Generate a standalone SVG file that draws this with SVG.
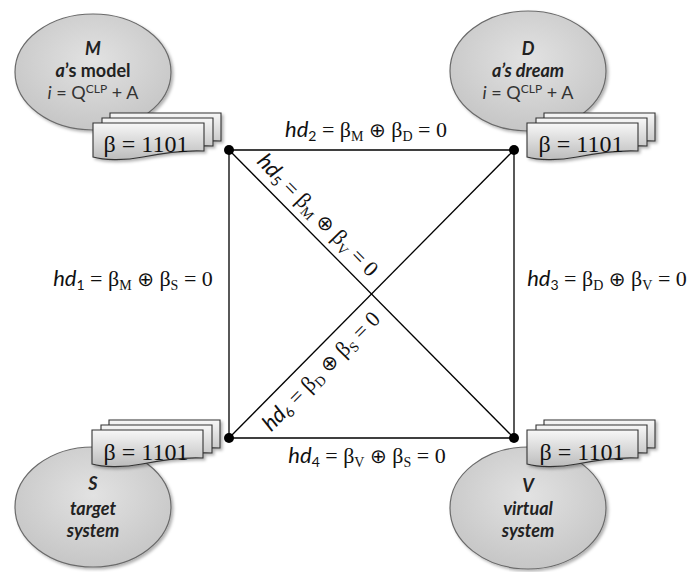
<svg xmlns="http://www.w3.org/2000/svg" xmlns:xlink="http://www.w3.org/1999/xlink" width="691" height="572" viewBox="0 0 691 572">
<defs>
<radialGradient id="ellG" cx="50%" cy="40%" r="60%">
<stop offset="0" stop-color="#e2e2e2"/>
<stop offset="1" stop-color="#c6c6c6"/>
</radialGradient>
<linearGradient id="cardG" x1="0" y1="0" x2="0" y2="1">
<stop offset="0" stop-color="#f7f7f7"/>
<stop offset="1" stop-color="#bcbcbc"/>
</linearGradient>
<filter id="sh" x="-10%" y="-10%" width="130%" height="130%">
<feDropShadow dx="2" dy="2" stdDeviation="1.5" flood-color="#000" flood-opacity="0.3"/>
</filter>
<path id="doc" d="M0,0 H111 V28 C90,27 70,30 50,34 C30,38 10,37 0,34 Z"/>
<g id="stack">
<use xlink:href="#doc" transform="translate(17,-10)" class="card"/>
<use xlink:href="#doc" transform="translate(9,-5)" class="card"/>
<use xlink:href="#doc" class="card"/>
</g>
</defs>
<style>
.ell{fill:url(#ellG);stroke:#6a6a6a;stroke-width:1.2;filter:url(#sh)}
.card{fill:url(#cardG);stroke:#333;stroke-width:1.1}
.stk{filter:url(#sh)}
.beta{font-family:"Liberation Serif",serif;font-size:24px;fill:#111;text-anchor:middle}
.nt{font-family:"Lato","Open Sans",sans-serif;font-size:18px;fill:#222;text-anchor:middle}
.bi{font-weight:bold;font-style:italic}
.b{font-weight:bold}
.eq{font-family:"Lato","Open Sans",sans-serif;font-size:18px;fill:#333;text-anchor:middle}
.lbl{font-family:"Liberation Serif",serif;font-size:22px;fill:#111}
.it{font-family:"Lato","Open Sans",sans-serif;font-style:italic}
.sub{font-size:14px}
.ssub{font-family:"Lato","Open Sans",sans-serif;font-size:14px}
.op{font-family:"DejaVu Sans",sans-serif;font-size:20px}
.ln{stroke:#000;stroke-width:1.3;fill:none}
</style>

<g id="connectors">
<path class="ln" d="M229,150 H514 V438 H229 Z"/>
<path class="ln" d="M229,150 L514,438"/>
<path class="ln" d="M229,438 L514,150"/>
<circle cx="229" cy="150" r="5" fill="#000"/>
<circle cx="514" cy="150" r="5" fill="#000"/>
<circle cx="229" cy="438" r="5" fill="#000"/>
<circle cx="514" cy="438" r="5" fill="#000"/>
<text class="lbl" x="366" y="137" text-anchor="middle"><tspan class="it">hd</tspan><tspan class="ssub" dy="4">2</tspan><tspan dy="-4"> = β</tspan><tspan class="sub" dy="4">M</tspan><tspan dy="-4"> </tspan><tspan class="op">⊕</tspan><tspan> β</tspan><tspan class="sub" dy="4">D</tspan><tspan dy="-4"> = 0</tspan></text>
<text class="lbl" x="133" y="286" text-anchor="middle"><tspan class="it">hd</tspan><tspan class="ssub" dy="4">1</tspan><tspan dy="-4"> = β</tspan><tspan class="sub" dy="4">M</tspan><tspan dy="-4"> </tspan><tspan class="op">⊕</tspan><tspan> β</tspan><tspan class="sub" dy="4">S</tspan><tspan dy="-4"> = 0</tspan></text>
<text class="lbl" x="607" y="286" text-anchor="middle"><tspan class="it">hd</tspan><tspan class="ssub" dy="4">3</tspan><tspan dy="-4"> = β</tspan><tspan class="sub" dy="4">D</tspan><tspan dy="-4"> </tspan><tspan class="op">⊕</tspan><tspan> β</tspan><tspan class="sub" dy="4">V</tspan><tspan dy="-4"> = 0</tspan></text>
<text class="lbl" x="367" y="463" text-anchor="middle"><tspan class="it">hd</tspan><tspan class="ssub" dy="4">4</tspan><tspan dy="-4"> = β</tspan><tspan class="sub" dy="4">V</tspan><tspan dy="-4"> </tspan><tspan class="op">⊕</tspan><tspan> β</tspan><tspan class="sub" dy="4">S</tspan><tspan dy="-4"> = 0</tspan></text>
<text class="lbl" transform="translate(317,216) rotate(45.5)" x="0" y="6" text-anchor="middle"><tspan class="it">hd</tspan><tspan class="ssub" dy="4">5</tspan><tspan dy="-4"> = β</tspan><tspan class="sub" dy="4">M</tspan><tspan dy="-4"> </tspan><tspan class="op">⊕</tspan><tspan> β</tspan><tspan class="sub" dy="4">V</tspan><tspan dy="-4"> = 0</tspan></text>
<text class="lbl" transform="translate(322,372) rotate(-45.5)" x="0" y="6" text-anchor="middle"><tspan class="it">hd</tspan><tspan class="ssub" dy="4">6</tspan><tspan dy="-4"> = β</tspan><tspan class="sub" dy="4">D</tspan><tspan dy="-4"> </tspan><tspan class="op">⊕</tspan><tspan> β</tspan><tspan class="sub" dy="4">S</tspan><tspan dy="-4"> = 0</tspan></text>
</g>

<g id="node-M">
<ellipse class="ell" cx="93" cy="72" rx="78" ry="58"/>
<text class="nt bi" x="93" y="55">M</text>
<text class="nt b" x="93" y="77"><tspan font-style="italic">a</tspan>’s model</text>
<text class="eq" x="93" y="99"><tspan font-style="italic">i</tspan> = Q<tspan font-size="12" dy="-6">CLP</tspan><tspan dy="6"> + A</tspan></text>
<use xlink:href="#stack" class="stk" transform="translate(93,123)"/>
<text class="beta" x="146" y="152">β = 1101</text>
</g>

<g id="node-D">
<ellipse class="ell" cx="528" cy="71" rx="78" ry="60"/>
<text class="nt bi" x="528" y="55">D</text>
<text class="nt bi" x="528" y="77">a’s dream</text>
<text class="eq" x="528" y="99"><tspan font-style="italic">i</tspan> = Q<tspan font-size="12" dy="-6">CLP</tspan><tspan dy="6"> + A</tspan></text>
<use xlink:href="#stack" class="stk" transform="translate(527,123)"/>
<text class="beta" x="581" y="152">β = 1101</text>
</g>

<g id="node-S">
<ellipse class="ell" cx="93" cy="507" rx="78" ry="60"/>
<use xlink:href="#stack" class="stk" transform="translate(92,430)"/>
<text class="beta" x="146" y="460">β = 1101</text>
<text class="nt bi" x="93" y="490">S</text>
<text class="nt bi" x="93" y="515">target</text>
<text class="nt bi" x="93" y="537">system</text>
</g>

<g id="node-V">
<ellipse class="ell" cx="528" cy="508" rx="78" ry="61"/>
<use xlink:href="#stack" class="stk" transform="translate(527,430)"/>
<text class="beta" x="582" y="460">β = 1101</text>
<text class="nt bi" x="528" y="492">V</text>
<text class="nt bi" x="528" y="515">virtual</text>
<text class="nt bi" x="528" y="537">system</text>
</g>
</svg>
